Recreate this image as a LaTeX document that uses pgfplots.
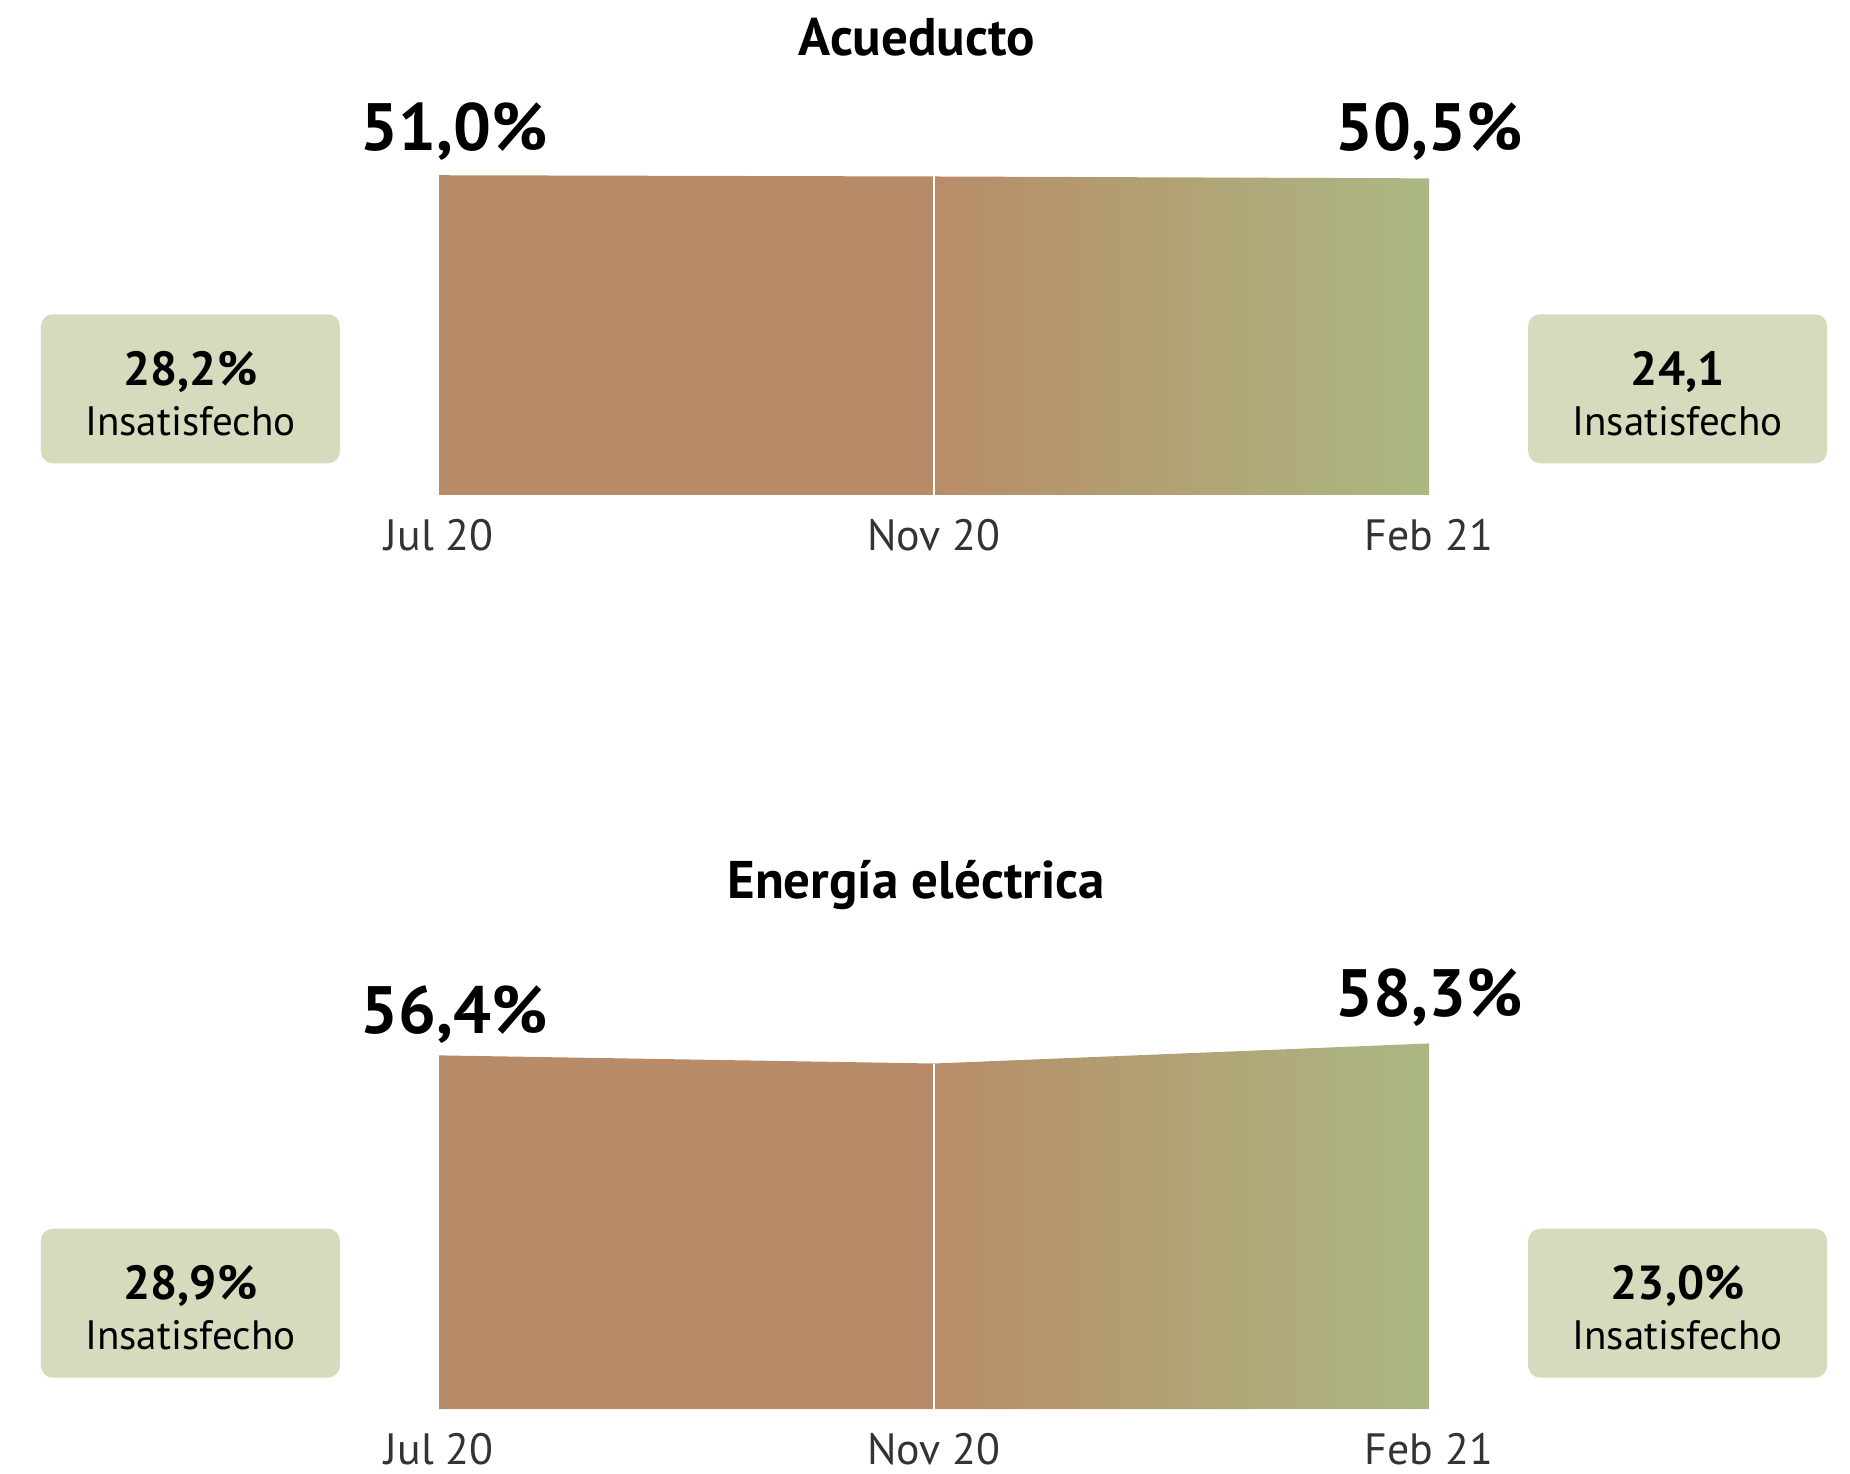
\documentclass[border=0pt]{standalone}
\usepackage{pgfplots}
\pgfplotsset{compat=1.18}
\usepackage{fontspec}
\setmainfont{PT Sans}
\definecolor{brownc}{HTML}{B88C68}
\definecolor{greenc}{HTML}{ABB884}
\definecolor{boxc}{HTML}{D5DBBC}
\definecolor{tickc}{HTML}{333333}
\pgfplotsset{
  chart/.style={
    x=123.75bp, y=1.5675bp,
    xmin=0, xmax=2, ymin=0,
    enlargelimits=false,
    scale only axis,
    anchor=origin,
    clip=false,
    axis x line=bottom,
    axis y line=none,
    axis line style={draw=none},
    major tick style={draw=none},
    major tick length=0pt,
    ytick=\empty,
    xtick={0,1,2},
    xticklabels={Jul 20,Nov 20,Feb 21},
    xticklabel style={font=\fontsize{11}{13}\selectfont, text=tickc, yshift=-2.5bp},
  }
}
\begin{document}
\begin{tikzpicture}
\path[use as bounding box] (0,0) rectangle (462.5bp,368.5bp);
% ---------- Top chart
\begin{axis}[chart, at={(109.75bp,244.75bp)}, ymax=52]
\addplot[draw=none, fill=brownc] coordinates {(0,51.0) (1,50.8)} \closedcycle;
\addplot[draw=none, left color=brownc, right color=greenc] coordinates {(1,50.8) (2,50.5)} \closedcycle;
\addplot[white, line width=0.6bp] coordinates {(1,0) (1,50.8)};
\end{axis}
% ---------- Bottom chart
\begin{axis}[chart, at={(109.75bp,16.25bp)}, ymax=59]
\addplot[draw=none, fill=brownc] coordinates {(0,56.4) (1,55.1)} \closedcycle;
\addplot[draw=none, left color=brownc, right color=greenc] coordinates {(1,55.1) (2,58.3)} \closedcycle;
\addplot[white, line width=0.6bp] coordinates {(1,0) (1,55.1)};
\end{axis}
% titles
\node[font=\bfseries\fontsize{13.3}{15}\selectfont] at (229.25bp,359.25bp) {Acueducto};
\node[font=\bfseries\fontsize{13.3}{15}\selectfont] at (229bp,147.25bp) {Energía eléctrica};
% big value labels
\node[font=\bfseries\fontsize{16.8}{19}\selectfont, anchor=base] at (113.5bp,330.75bp) {51,0\%};
\node[font=\bfseries\fontsize{16.8}{19}\selectfont, anchor=base] at (357.25bp,330.75bp) {50,5\%};
\node[font=\bfseries\fontsize{16.8}{19}\selectfont, anchor=base] at (113.5bp,110bp) {56,4\%};
\node[font=\bfseries\fontsize{16.8}{19}\selectfont, anchor=base] at (357.25bp,114.25bp) {58,3\%};
% boxes
\tikzset{ibox/.style={fill=boxc, rounded corners=3bp, minimum width=74.75bp, minimum height=37.25bp, draw=none, inner sep=0pt},
  itext/.style={align=center, font=\fontsize{10.3}{12.5}\selectfont, inner sep=0pt}}
\node[ibox] at (47.6bp,271.3bp) {};
\node[ibox] at (419.4bp,271.3bp) {};
\node[ibox] at (47.6bp,42.7bp) {};
\node[ibox] at (419.4bp,42.7bp) {};
\node[itext] at (47.6bp,270.1bp) {{\bfseries\fontsize{12}{12.5}\selectfont 28,2\%}\\Insatisfecho};
\node[itext] at (419.4bp,270.1bp) {{\bfseries\fontsize{12}{12.5}\selectfont 24,1}\\Insatisfecho};
\node[itext] at (47.6bp,41.5bp) {{\bfseries\fontsize{12}{12.5}\selectfont 28,9\%}\\Insatisfecho};
\node[itext] at (419.4bp,41.5bp) {{\bfseries\fontsize{12}{12.5}\selectfont 23,0\%}\\Insatisfecho};
\end{tikzpicture}
\end{document}
